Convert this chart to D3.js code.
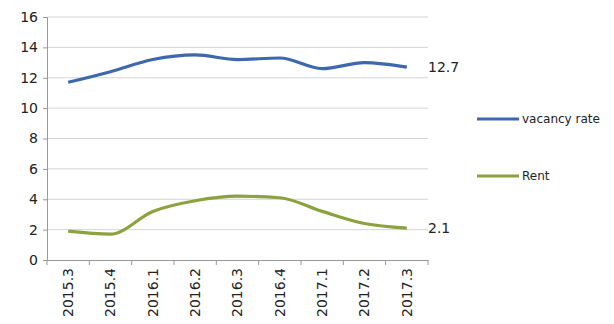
<!DOCTYPE html>
<html>
<head>
<meta charset="utf-8">
<script src="https://cdn.jsdelivr.net/npm/d3@7"></script>
<style>
  html, body { margin: 0; padding: 0; background: #fff; }
  svg { display: block; }
  text { font-family: "DejaVu Sans", sans-serif; fill: #222; }
</style>
</head>
<body>
<svg id="chart" width="614" height="324"></svg>
<script>
// Quarterly periods
const quarters = ["2015.3", "2015.4", "2016.1", "2016.2", "2016.3", "2016.4", "2017.1", "2017.2", "2017.3"];
// Vacancy rate (%)
const vacancyRate = [11.7, 12.4, 13.2, 13.5, 13.2, 13.3, 12.6, 13.0, 12.7];
// Rent
const rent = [1.9, 1.7, 3.2, 3.9, 4.2, 4.1, 3.2, 2.4, 2.1];
// Y-axis ticks
const yTicks = [0, 2, 4, 6, 8, 10, 12, 14, 16];

const series = [
  { name: "vacancy rate", values: vacancyRate, color: "#3d68ac", endLabel: "12.7" },
  { name: "Rent", values: rent, color: "#8ba23f", endLabel: "2.1" }
];

const svg = d3.select("#chart");
const plot = { left: 47, right: 428, top: 17, bottom: 260 };

const x = d3.scaleBand().domain(quarters).range([plot.left, plot.right]);
const y = d3.scaleLinear().domain([0, 16]).range([plot.bottom, plot.top]);

// Horizontal gridlines
svg.append("g")
  .selectAll("line")
  .data(yTicks.filter(d => d > 0))
  .join("line")
  .attr("x1", plot.left).attr("x2", plot.right)
  .attr("y1", d => y(d)).attr("y2", d => y(d))
  .attr("stroke", "#d4d4d4").attr("stroke-width", 1);

// Y axis
const yAxis = svg.append("g")
  .attr("transform", `translate(${plot.left},0)`)
  .call(d3.axisLeft(y).tickValues(yTicks).tickSize(4).tickPadding(5).tickFormat(d3.format("d")));
yAxis.select(".domain").attr("stroke", "#999");
yAxis.selectAll(".tick line").attr("stroke", "#999");
yAxis.selectAll("text").style("font-size", "14px").attr("fill", "#222");

// X axis with ticks at category boundaries
const xAxis = svg.append("g")
  .attr("transform", `translate(0,${plot.bottom})`)
  .call(d3.axisBottom(x).tickSize(0).tickPadding(0));
xAxis.select(".domain").attr("stroke", "#999");
xAxis.selectAll(".tick text")
  .style("font-size", "14px")
  .attr("fill", "#222")
  .attr("text-anchor", "end")
  .attr("transform", "translate(0,8) rotate(-90)")
  .attr("dy", "0.35em")
  .attr("x", 0).attr("y", 0);

svg.append("g")
  .selectAll("line")
  .data(quarters.map(q => x(q)).concat([plot.right]))
  .join("line")
  .attr("x1", d => d).attr("x2", d => d)
  .attr("y1", plot.bottom).attr("y2", plot.bottom + 5)
  .attr("stroke", "#999");

// Lines
const line = d3.line()
  .x((d, i) => x(quarters[i]) + x.bandwidth() / 2)
  .y(d => y(d))
  .curve(d3.curveMonotoneX);

series.forEach(s => {
  svg.append("path")
    .datum(s.values)
    .attr("fill", "none")
    .attr("stroke", s.color)
    .attr("stroke-width", 3.2)
    .attr("stroke-linejoin", "round")
    .attr("d", line);

  const last = s.values[s.values.length - 1];
  svg.append("text")
    .attr("x", plot.right + 0)
    .attr("y", y(last))
    .attr("dy", "0.35em")
    .style("font-size", "14px")
    .text(s.endLabel);
});

// Legend
const legend = svg.append("g");
const legendY = [119, 176];
series.forEach((s, i) => {
  legend.append("line")
    .attr("x1", 477).attr("x2", 519)
    .attr("y1", legendY[i]).attr("y2", legendY[i])
    .attr("stroke", s.color).attr("stroke-width", 3.2);
  legend.append("text")
    .attr("x", 522).attr("y", legendY[i])
    .attr("dy", "0.35em")
    .style("font-size", "12px")
    .text(s.name);
});
</script>
</body>
</html>
